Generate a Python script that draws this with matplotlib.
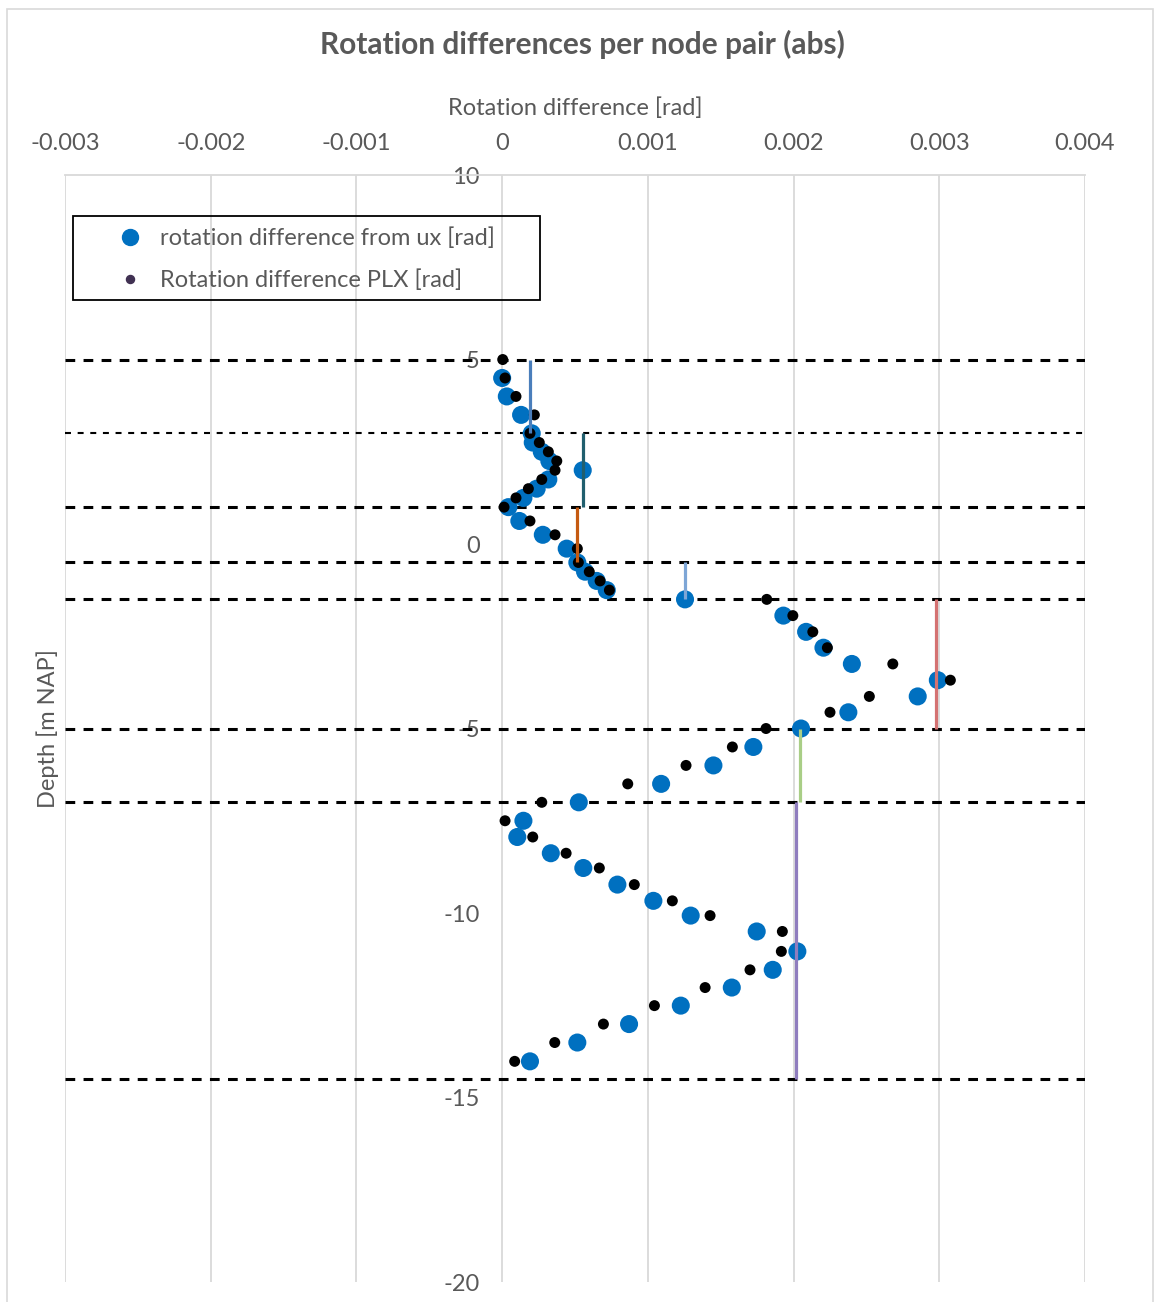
import matplotlib
matplotlib.use("Agg")
import matplotlib.pyplot as plt
from matplotlib.lines import Line2D
from matplotlib.patches import Rectangle

plt.rcParams['font.family'] = ['Lato', 'DejaVu Sans']
plt.rcParams['lines.scale_dashes'] = False

# Depth [m NAP] of each node pair (shared by both series, PLX has one extra at the top)
depth_ux = [4.5, 4.0, 3.5, 3.0, 2.75, 2.5, 2.25, 2.0, 1.75, 1.5, 1.25, 1.0,
            0.625, 0.25, -0.125, -0.5, -0.75, -1.0, -1.25, -1.5,
            -1.94, -2.38, -2.81, -3.25, -3.69, -4.13, -4.56, -5.0,
            -5.5, -6.0, -6.5, -7.0,
            -7.5, -7.94, -8.38, -8.78, -9.23, -9.67, -10.07, -10.5,
            -11.04, -11.54, -12.02, -12.51, -13.01, -13.51, -14.02]

rot_ux = [0.0000, 0.000032, 0.000130, 0.000203, 0.000210, 0.000272, 0.000324, 0.000553,
          0.000317, 0.000237, 0.000146, 0.000043,
          0.000118, 0.000279, 0.000443, 0.000516, 0.000569, 0.000649, 0.000718, 0.001255,
          0.001930, 0.002086, 0.002205, 0.002400, 0.002990, 0.002852, 0.002376, 0.002051,
          0.001724, 0.001450, 0.001091, 0.000526,
          0.000146, 0.000104, 0.000334, 0.000557, 0.000791, 0.001038, 0.001294, 0.001747,
          0.002026, 0.001857, 0.001576, 0.001226, 0.000871, 0.000516, 0.000191]

depth_plx = [5.0] + depth_ux

rot_plx = [0.000004, 0.000020, 0.000095, 0.000221, 0.000191, 0.000255, 0.000317, 0.000375,
           0.000363, 0.000272, 0.000180, 0.000095, 0.000013,
           0.000191, 0.000363, 0.000516, 0.000523, 0.000598, 0.000672, 0.000736, 0.001816,
           0.001995, 0.002132, 0.002232, 0.002681, 0.003076, 0.002520, 0.002250, 0.001811,
           0.001580, 0.001262, 0.000862, 0.000272,
           0.000020, 0.000210, 0.000439, 0.000667, 0.000907, 0.001168, 0.001427, 0.001923,
           0.001916, 0.001701, 0.001393, 0.001045, 0.000695, 0.000361, 0.000086]

# Soil layer boundaries and the layer-average rotation difference
boundary_depths = [5.0, 3.0, 1.0, -0.5, -1.5, -5.0, -7.0, -14.5]
layer_tops = [5.0, 3.0, 1.0, -0.5, -1.5, -5.0, -7.0]
layer_bottoms = [3.0, 1.0, -0.5, -1.5, -5.0, -7.0, -14.5]
layer_means = [0.000191, 0.000553, 0.000517, 0.001256, 0.002980, 0.002045, 0.002015]
layer_colors = ['#4A7EBB', '#215F6E', '#C55A11', '#7EA6D6', '#D47272', '#A9CE86', '#8F7DBE']

x_ticks = [-0.003, -0.002, -0.001, 0.0, 0.001, 0.002, 0.003, 0.004]
x_tick_labels = ['-0.003', '-0.002', '-0.001', '0', '0.001', '0.002', '0.003', '0.004']
y_ticks = [10, 5, 0, -5, -10, -15, -20]
y_tick_labels = ['10', '5', '0', '-5', '-10', '-15', '-20']

text_color = '#595959'
grid_color = '#D9D9D9'
fs = 17

fig = plt.figure(figsize=(11.56, 13.02), dpi=100)
fig.patch.set_facecolor('white')
ax = fig.add_axes([0.05623, 0.01536, 0.88235, 0.8502])

# chart frame
fig.patches.append(Rectangle((0.00606, -0.02), 0.9913, 1.0131, transform=fig.transFigure,
                             fill=False, edgecolor=grid_color, lw=1.2))

ax.set_xlim(-0.003, 0.004)
ax.set_ylim(-20, 10)

# layer boundaries
for d in boundary_depths:
    if d == 3.0:
        ax.axhline(d, color='black', lw=1.5, dashes=(4.3, 4.8), zorder=2)
    else:
        ax.axhline(d, color='black', lw=2.2, dashes=(7.0, 6.0), zorder=2)

ax.scatter(rot_ux, depth_ux, s=13.0 ** 2, color='#0070C0', edgecolors='none', zorder=3)
ax.scatter(rot_plx, depth_plx, s=7.9 ** 2, color='black', edgecolors='none', zorder=4)

ax.vlines(layer_means, layer_bottoms, layer_tops, colors=layer_colors, lw=2.3, zorder=5)

# axes styling
ax.xaxis.tick_top()
ax.xaxis.set_label_position('top')
ax.set_xticks(x_ticks)
ax.set_xticklabels(x_tick_labels)
ax.set_yticks(y_ticks)
ax.set_yticklabels(y_tick_labels)
ax.tick_params(axis='x', length=0, pad=15.5, labelsize=fs, labelcolor=text_color)
ax.tick_params(axis='y', length=0, pad=16, labelsize=fs, labelcolor=text_color)
ax.grid(axis='x', color=grid_color, lw=1.3, zorder=0)
ax.set_axisbelow(True)
for side in ['bottom', 'right']:
    ax.spines[side].set_visible(False)
ax.spines['left'].set_position(('data', 0))
ax.spines['left'].set_visible(False)
ax.spines['top'].set_color(grid_color)
ax.spines['top'].set_linewidth(1.3)

ax.set_xlabel('Rotation difference [rad]', fontsize=fs, color=text_color, labelpad=12.5)
ax.set_ylabel('Depth [m NAP]', fontsize=fs, color=text_color, va='center')
ax.yaxis.set_label_coords(-0.0167, 0.5)

fig.suptitle('Rotation differences per node pair (abs)', fontsize=21.5, fontweight='bold',
             color=text_color, y=1 - 44 / 1302, va='center', x=0.5035)

# legend with a separate rectangular border
handles = [Line2D([], [], ls='', marker='o', color='#0070C0', markersize=11.5),
           Line2D([], [], ls='', marker='o', color='#403152', markersize=5.8)]
labels = ['rotation difference from ux [rad]', 'Rotation difference PLX [rad]']
leg = ax.legend(handles, labels, loc='center left', bbox_to_anchor=(0.0451, 0.924),
                borderaxespad=0, frameon=False, fontsize=fs, labelcolor=text_color,
                handletextpad=0.47, borderpad=0, labelspacing=0.85, handlelength=1.6)
ax.add_patch(Rectangle((0.00784, 0.88708), 0.4578, 0.07588, transform=ax.transAxes,
                       fill=False, edgecolor='black', lw=1.3, zorder=6))

fig.savefig('out.png', dpi=100, facecolor='white')
